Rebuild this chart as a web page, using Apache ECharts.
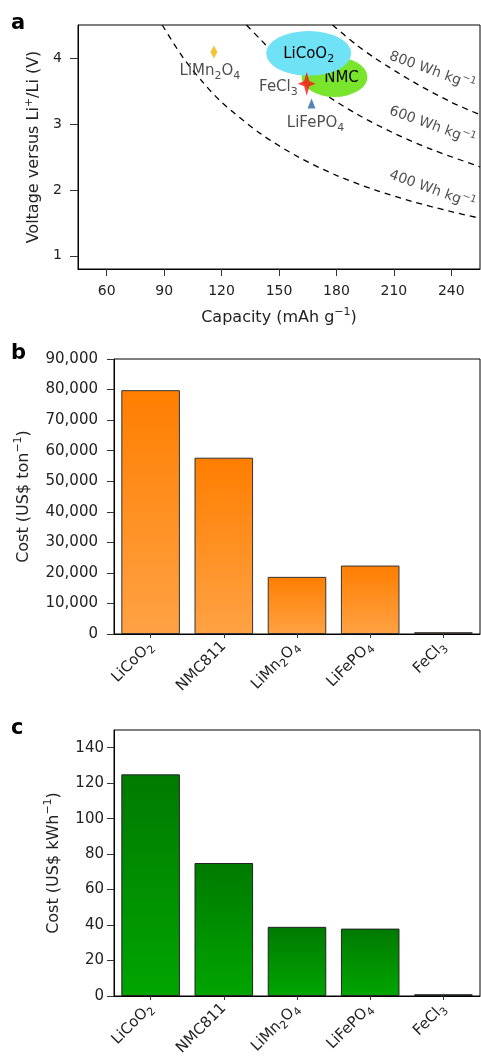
<!doctype html>
<html>
<head>
<meta charset="utf-8">
<script src="https://cdn.jsdelivr.net/npm/echarts@6.0.0/dist/echarts.min.js"></script>
<style>
    html, body {margin: 0; padding: 0; background: #fff;}
    #chart {width: 481px; height: 1056px;}
</style>
</head>
<body>
<div id="chart"></div>
<script>
    // panel a: voltage vs capacity
    var capacityTicks = [60, 90, 120, 150, 180, 210, 240];
    var voltageTicks = [1, 2, 3, 4];
    var curve400 = [[89, 4.5], [100, 4.0], [110, 3.64], [120, 3.33], [140, 2.86], [160, 2.5], [180, 2.22], [200, 2.0], [220, 1.82], [240, 1.67], [255, 1.57]];
    var curve600 = [[133, 4.5], [140, 4.29], [150, 4.0], [170, 3.53], [190, 3.16], [210, 2.86], [230, 2.61], [255, 2.35]];
    var curve800 = [[178, 4.5], [190, 4.21], [200, 4.0], [220, 3.64], [240, 3.33], [255, 3.14]];
    var curveLabels = [[230, 3.8, '800 Wh kg⁻¹'], [230, 2.97, '600 Wh kg⁻¹'], [230, 2.0, '400 Wh kg⁻¹']];
    var regions = [['NMC', 179, 3.71, 17.2, 0.30], ['LiCoO₂', 165.5, 4.07, 22.2, 0.34]];
    var materials = [['LiMn₂O₄', 116, 4.09], ['FeCl₃', 164.5, 3.61], ['LiFePO₄', 167, 3.31]];

    // panels b and c: cost
    var categories = ['LiCoO₂', 'NMC811', 'LiMn₂O₄', 'LiFePO₄', 'FeCl₃'];
    var costPerTon = [79800, 57700, 18700, 22400, 600];
    var costPerKWh = [125, 75, 39, 38, 1];
    var costTonTicks = [0, 10000, 20000, 30000, 40000, 50000, 60000, 70000, 80000, 90000];
    var costKWhTicks = [0, 20, 40, 60, 80, 100, 120, 140];

    var FONT = "'DejaVu Sans', sans-serif";
    var TXT = '#222';

    var regionColors = ['#78e52c', '#6fe2f6'];
    var regionLabelShift = [7, 0];
    var markerStyles = [
        {symbol: 'diamond', size: [7, 13], color: '#f6b400', pos: 'bottom', dist: 2, offset: [-4, 0]},
        {symbol: 'path://M0,-12 L2.6,-2.6 L9,0 L2.6,2.6 L0,12 L-2.6,2.6 L-9,0 L-2.6,-2.6 Z', size: [18, 24], color: '#ff1111', pos: 'left', dist: 0, offset: [0, 3]},
        {symbol: 'triangle', size: [8, 10], color: '#2b68a6', pos: 'bottom', dist: 4, offset: [4, 0]}
    ];

    // turn unicode sub/superscripts into rich text pieces
    var SUB = '₀₁₂₃₄₅₆₇₈₉', SUP = {'⁺': '+', '⁻': '−', '¹': '1'};
    function rt(str) {
        var out = '', cur = '', mode = 'n';
        for (var i = 0; i < str.length; i++) {
            var ch = str[i], m = 'n', c = ch;
            if (SUB.indexOf(ch) >= 0) { m = 'sb'; c = String(SUB.indexOf(ch)); }
            else if (SUP[ch]) { m = 'sp'; c = SUP[ch]; }
            if (m !== mode && cur) { out += '{' + mode + '|' + cur + '}'; cur = ''; }
            mode = m; cur += c;
        }
        if (cur) out += '{' + mode + '|' + cur + '}';
        return out;
    }

    function rich(size) {
        var small = Math.round(size * 0.7);
        return {
            n: {fontFamily: FONT, fontSize: size, color: TXT, lineHeight: size + 6},
            sb: {fontFamily: FONT, fontSize: small, color: TXT, lineHeight: small, verticalAlign: 'bottom'},
            sp: {fontFamily: FONT, fontSize: small, color: TXT, lineHeight: small, verticalAlign: 'top'}
        };
    }

    function axisBase(extra) {
        var base = {
            axisLine: {show: true, lineStyle: {color: '#000', width: 1}},
            axisTick: {show: true, length: 7, inside: false, lineStyle: {color: '#333'}},
            axisLabel: {color: TXT, fontFamily: FONT, fontSize: 14},
            splitLine: {show: false},
            nameTextStyle: {color: TXT, fontFamily: FONT, fontSize: 16, rich: rich(16)},
            nameLocation: 'middle'
        };
        for (var k in extra) {
            if (typeof extra[k] === 'object' && base[k] && !Array.isArray(extra[k])) {
                base[k] = Object.assign({}, base[k], extra[k]);
            } else {
                base[k] = extra[k];
            }
        }
        return base;
    }

    function barGradient(top, bottom) {
        return {type: 'linear', x: 0, y: 0, x2: 0, y2: 1,
            colorStops: [{offset: 0, color: top}, {offset: 1, color: bottom}]};
    }

    var gridBase = {show: true, borderColor: '#000', borderWidth: 1, containLabel: false, outerBoundsMode: 'none'};

    var chart = echarts.init(document.getElementById('chart'), null, {renderer: 'canvas'});

    chart.setOption({
        animation: false,
        backgroundColor: '#fff',
        grid: [
            Object.assign({left: 78, top: 25, width: 402, height: 244}, gridBase),
            Object.assign({left: 114, top: 359, width: 366, height: 275}, gridBase),
            Object.assign({left: 114, top: 730, width: 366, height: 266}, gridBase)
        ],
        xAxis: [
            axisBase({type: 'value', gridIndex: 0, min: 45, max: 255,
                name: rt('Capacity (mAh g⁻¹)'), nameGap: 38,
                axisTick: {customValues: capacityTicks},
                axisLabel: {customValues: capacityTicks, margin: 15}}),
            axisBase({type: 'category', gridIndex: 1, data: categories,
                axisTick: {alignWithLabel: true, length: 4},
                axisLabel: {rotate: 45, interval: 0, margin: 10, rich: rich(15), formatter: rt}}),
            axisBase({type: 'category', gridIndex: 2, data: categories,
                axisTick: {alignWithLabel: true, length: 4},
                axisLabel: {rotate: 45, interval: 0, margin: 10, rich: rich(15), formatter: rt}})
        ],
        yAxis: [
            axisBase({type: 'value', gridIndex: 0, min: 0.8, max: 4.5,
                name: rt('Voltage versus Li⁺/Li (V)'), nameGap: 29,
                axisTick: {customValues: voltageTicks, length: 8},
                axisLabel: {customValues: voltageTicks, margin: 16}}),
            axisBase({type: 'value', gridIndex: 1, min: 0, max: 90000,
                name: rt('Cost (US$ ton⁻¹)'), nameGap: 79,
                axisTick: {customValues: costTonTicks},
                axisLabel: {customValues: costTonTicks, margin: 16, fontSize: 15,
                    formatter: function (v) { return v.toLocaleString('en-US'); }}}),
            axisBase({type: 'value', gridIndex: 2, min: 0, max: 150,
                name: rt('Cost (US$ kWh⁻¹)'), nameGap: 49,
                axisTick: {customValues: costKWhTicks},
                axisLabel: {customValues: costKWhTicks, margin: 10, fontSize: 15}})
        ],
        graphic: [
            {type: 'text', left: 11, top: 13, style: {text: 'a', font: 'bold 21px ' + FONT, fill: '#000'}},
            {type: 'text', left: 11, top: 343, style: {text: 'b', font: 'bold 21px ' + FONT, fill: '#000'}},
            {type: 'text', left: 11, top: 718, style: {text: 'c', font: 'bold 21px ' + FONT, fill: '#000'}}
        ],
        series: [
            {type: 'line', xAxisIndex: 0, yAxisIndex: 0, data: curve400, smooth: 0.3, showSymbol: false, z: 1,
                lineStyle: {color: '#000', width: 1.3, type: [6, 5]}},
            {type: 'line', xAxisIndex: 0, yAxisIndex: 0, data: curve600, smooth: 0.3, showSymbol: false, z: 1,
                lineStyle: {color: '#000', width: 1.3, type: [6, 5]}},
            {type: 'line', xAxisIndex: 0, yAxisIndex: 0, data: curve800, smooth: 0.3, showSymbol: false, z: 1,
                lineStyle: {color: '#000', width: 1.3, type: [6, 5]}},
            {
                type: 'scatter', xAxisIndex: 0, yAxisIndex: 0, data: curveLabels, symbolSize: 1, z: 2,
                itemStyle: {color: 'rgba(0,0,0,0)'},
                label: {show: true, position: 'inside', rotate: -20, rich: rich(14),
                    formatter: function (p) { return rt(p.value[2]); }}
            },
            {
                type: 'custom', xAxisIndex: 0, yAxisIndex: 0, z: 3,
                data: regions.map(function (r) { return [r[1], r[2], r[3], r[4]]; }),
                renderItem: function (params, api) {
                    var c = api.coord([api.value(0), api.value(1)]);
                    var s = api.size([api.value(2), api.value(3)]);
                    var i = params.dataIndex;
                    return {
                        type: 'group',
                        children: [
                            {type: 'circle', x: c[0], y: c[1], scaleX: s[0] / s[1],
                                shape: {cx: 0, cy: 0, r: s[1]}, style: {fill: regionColors[i]}},
                            {type: 'text', x: c[0] + regionLabelShift[i], y: c[1] + 1,
                                style: {text: rt(regions[i][0]), rich: rich(15),
                                    align: 'center', verticalAlign: 'middle'}}
                        ]
                    };
                }
            },
            {
                type: 'scatter', xAxisIndex: 0, yAxisIndex: 0, z: 4,
                data: materials.map(function (m, i) {
                    var st = markerStyles[i];
                    return {
                        name: m[0], value: [m[1], m[2]],
                        symbol: st.symbol, symbolSize: st.size,
                        itemStyle: {color: st.color},
                        label: {show: true, position: st.pos, distance: st.dist, offset: st.offset,
                            formatter: rt(m[0]), rich: rich(15)}
                    };
                })
            },
            {
                type: 'bar', xAxisIndex: 1, yAxisIndex: 1, data: costPerTon, barCategoryGap: '20%',
                itemStyle: {color: barGradient('#ff7e00', '#ffa244'), borderColor: '#333', borderWidth: 1}
            },
            {
                type: 'bar', xAxisIndex: 2, yAxisIndex: 2, data: costPerKWh, barCategoryGap: '20%',
                itemStyle: {color: barGradient('#007a00', '#00a500'), borderColor: '#222', borderWidth: 1}
            }
        ]
    });
</script>
</body>
</html>
